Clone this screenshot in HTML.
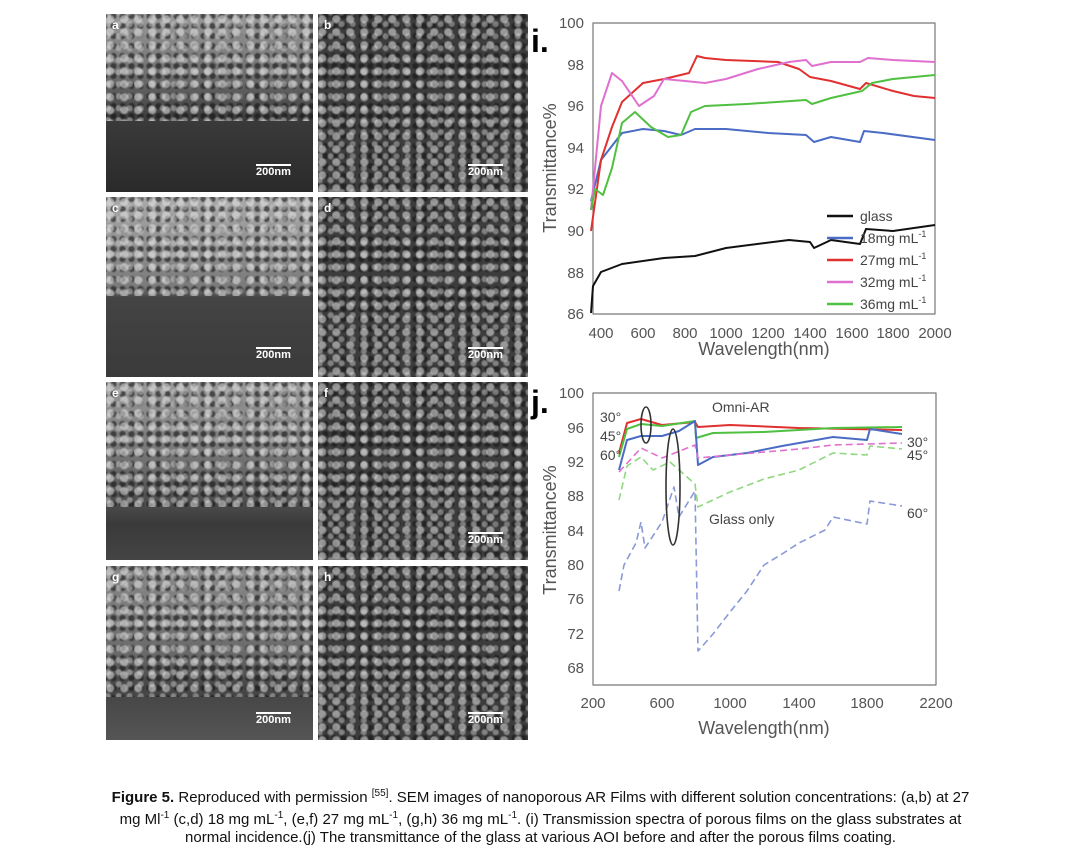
<!DOCTYPE html>
<html><head><meta charset="utf-8"><style>
body{margin:0;width:1081px;height:857px;background:#fff;position:relative;overflow:hidden;font-family:"Liberation Sans",Arial,sans-serif}
.p{position:absolute;overflow:hidden}
.L{background:linear-gradient(#9a9a9a 0%,#6e6e6e 35%,#3a3a3a 60%,#2a2a2a 100%)}
.R{background:#3c3c3c}
.tex{position:absolute;inset:0;background:
radial-gradient(circle at 30% 40%,rgba(230,230,230,.55) 0 3px,transparent 5px) 0 0/14px 13px,
radial-gradient(circle at 70% 60%,rgba(200,200,200,.5) 0 2px,transparent 4px) 5px 3px/11px 12px,
radial-gradient(circle at 50% 50%,rgba(20,20,20,.6) 0 2px,transparent 4px) 3px 7px/9px 10px}
.lb{position:absolute;left:6px;top:4px;color:#fff;font-size:12px;font-weight:bold}
.sb{position:absolute;color:#fff;font-size:11px;font-weight:bold;border-top:2px solid #fff;padding-top:0}
.cap{position:absolute;left:0;width:1081px;text-align:center;font-size:15px;color:#111;line-height:21px}
</style></head><body>
<div class="p L" style="left:106px;top:14px;width:207px;height:178px"><div class="tex" style="bottom:40%"></div><div class="lb">a</div><div class="sb" style="left:150px;top:150px">200nm</div></div>
<div class="p R" style="left:318px;top:14px;width:210px;height:178px"><div class="tex"></div><div class="lb">b</div><div class="sb" style="left:150px;top:150px">200nm</div></div>
<div class="p L" style="left:106px;top:197px;width:207px;height:180px;background:linear-gradient(#aaa 0%,#7a7a7a 50%,#444 56%,#3a3a3a 100%)"><div class="tex" style="bottom:45%"></div><div class="lb">c</div><div class="sb" style="left:150px;top:150px">200nm</div></div>
<div class="p R" style="left:318px;top:197px;width:210px;height:180px"><div class="tex"></div><div class="lb">d</div><div class="sb" style="left:150px;top:150px">200nm</div></div>
<div class="p L" style="left:106px;top:382px;width:207px;height:178px;background:linear-gradient(#999 0%,#777 40%,#3a3a3a 80%,#444 100%)"><div class="tex" style="bottom:30%"></div><div class="lb">e</div></div>
<div class="p R" style="left:318px;top:382px;width:210px;height:178px"><div class="tex"></div><div class="lb">f</div><div class="sb" style="left:150px;top:150px">200nm</div></div>
<div class="p L" style="left:106px;top:566px;width:207px;height:174px;background:linear-gradient(#8a8a8a 0%,#6a6a6a 50%,#444 70%,#555 100%)"><div class="tex" style="bottom:25%"></div><div class="lb">g</div><div class="sb" style="left:150px;top:146px">200nm</div></div>
<div class="p R" style="left:318px;top:566px;width:210px;height:174px"><div class="tex"></div><div class="lb">h</div><div class="sb" style="left:150px;top:146px">200nm</div></div>

<svg style="position:absolute;left:0;top:0" width="1081" height="760" font-family="Liberation Sans,Arial,sans-serif">
<g fill="none" stroke-width="2" stroke-linejoin="round">
<rect x="593" y="23" width="342" height="291" stroke="#777" stroke-width="1.2"/>
<text x="531" y="52" font-size="32" font-weight="bold" fill="#000" stroke="none">i.</text>
<g font-size="15" fill="#555" stroke="none" text-anchor="end">
<text x="584" y="28">100</text><text x="584" y="70">98</text><text x="584" y="111">96</text><text x="584" y="153">94</text><text x="584" y="194">92</text><text x="584" y="236">90</text><text x="584" y="278">88</text><text x="584" y="319">86</text></g>
<g font-size="15" fill="#555" stroke="none" text-anchor="middle">
<text x="601" y="338">400</text><text x="643" y="338">600</text><text x="685" y="338">800</text><text x="726" y="338">1000</text><text x="768" y="338">1200</text><text x="810" y="338">1400</text><text x="852" y="338">1600</text><text x="893" y="338">1800</text><text x="935" y="338">2000</text>
<text x="764" y="355" font-size="18">Wavelength(nm)</text>
<text transform="translate(556,168) rotate(-90)" font-size="18">Transmittance%</text></g>
<polyline stroke="#111" points="591,313 593,286 601,272 622,264 664,258 695,256 726,248 789,240 810,242 814,248 831,240 860,244 866,229 893,231 935,225"/>
<polyline stroke="#4a6cc4" points="591,201 601,160 622,133 643,129 664,131 681,135 695,129 726,129 768,133 806,135 814,142 831,137 860,142 864,131 883,133 935,140"/>
<polyline stroke="#e03030" points="591,231 601,160 612,127 622,102 643,83 664,79 689,73 697,56 705,58 726,60 778,62 799,69 810,77 831,81 860,89 866,83 893,91 914,96 935,98"/>
<polyline stroke="#e070d0" points="591,210 601,106 612,73 622,81 639,106 654,96 664,79 685,81 705,83 726,79 758,69 789,62 806,60 812,66 831,62 860,62 868,58 893,60 935,62"/>
<polyline stroke="#50c040" points="591,210 595,189 603,195 612,168 622,123 635,112 651,127 668,137 681,135 691,112 705,106 747,104 806,100 812,104 831,98 862,91 872,83 893,79 935,75"/>
<g stroke-width="2.5"><line x1="827" y1="216" x2="853" y2="216" stroke="#111"/><line x1="827" y1="238" x2="853" y2="238" stroke="#4a6cc4"/><line x1="827" y1="260" x2="853" y2="260" stroke="#e03030"/><line x1="827" y1="282" x2="853" y2="282" stroke="#e070d0"/><line x1="827" y1="304" x2="853" y2="304" stroke="#50c040"/></g>
<g font-size="14" fill="#444" stroke="none"><text x="860" y="221">glass</text><text x="860" y="243">18mg mL<tspan font-size="9" dy="-6">-1</tspan></text><text x="860" y="265">27mg mL<tspan font-size="9" dy="-6">-1</tspan></text><text x="860" y="287">32mg mL<tspan font-size="9" dy="-6">-1</tspan></text><text x="860" y="309">36mg mL<tspan font-size="9" dy="-6">-1</tspan></text></g>

<rect x="593" y="393" width="343" height="292" stroke="#777" stroke-width="1.2"/>
<text x="531" y="413" font-size="32" font-weight="bold" fill="#000" stroke="none">j.</text>
<g font-size="15" fill="#555" stroke="none" text-anchor="end">
<text x="584" y="398">100</text><text x="584" y="433">96</text><text x="584" y="467">92</text><text x="584" y="501">88</text><text x="584" y="536">84</text><text x="584" y="570">80</text><text x="584" y="604">76</text><text x="584" y="639">72</text><text x="584" y="673">68</text></g>
<g font-size="15" fill="#555" stroke="none" text-anchor="middle">
<text x="593" y="708">200</text><text x="662" y="708">600</text><text x="730" y="708">1000</text><text x="799" y="708">1400</text><text x="867" y="708">1800</text><text x="936" y="708">2200</text>
<text x="764" y="734" font-size="18">Wavelength(nm)</text>
<text transform="translate(556,530) rotate(-90)" font-size="18">Transmittance%</text></g>
<polyline stroke="#e03030" points="619,453 627,423 641,419 662,425 695,422 698,427 730,425 799,428 902,430"/>
<polyline stroke="#50c040" points="619,457 627,429 641,424 662,426 695,421 696,438 713,433 764,432 833,428 902,427"/>
<polyline stroke="#4a6cc4" points="619,470 627,440 641,436 662,436 679,431 695,421 698,465 713,457 747,453 782,446 833,437 867,440 870,429 902,434"/>
<g stroke-dasharray="7,4" stroke-width="1.6">
<polyline stroke="#e070d0" points="619,472 641,448 662,458 695,445 698,458 730,455 799,449 833,445 902,443"/>
<polyline stroke="#90d880" points="619,500 627,466 641,457 653,470 670,462 695,484 698,507 730,492 764,479 799,470 833,453 867,455 870,446 902,449"/>
<polyline stroke="#8a9ad8" points="619,591 624,565 636,543 641,522 645,548 662,522 674,487 679,517 695,491 698,651 713,634 730,612 747,591 764,565 782,554 799,543 825,530 833,517 867,524 870,501 902,506"/></g>
<ellipse cx="646" cy="425" rx="5" ry="18" stroke="#333" stroke-width="1.6"/>
<ellipse cx="673" cy="487" rx="7" ry="58" stroke="#333" stroke-width="1.6"/>
<g font-size="14" fill="#444" stroke="none"><text x="712" y="412">Omni-AR</text><text x="709" y="524">Glass only</text>
<text x="600" y="422">30°</text><text x="600" y="441">45°</text><text x="600" y="460">60°</text>
<text x="907" y="447">30°</text><text x="907" y="460">45°</text><text x="907" y="518">60°</text></g>
</g></svg>
<div class="cap" style="top:783px"><b>Figure 5.</b> Reproduced with permission <sup style="font-size:10px">[55]</sup>. SEM images of nanoporous AR Films with different solution concentrations: (a,b) at 27</div>
<div class="cap" style="top:805px">mg Ml<sup style="font-size:10px">-1</sup> (c,d) 18 mg mL<sup style="font-size:10px">-1</sup>, (e,f) 27 mg mL<sup style="font-size:10px">-1</sup>, (g,h) 36 mg mL<sup style="font-size:10px">-1</sup>. (i) Transmission spectra of porous films on the glass substrates at</div>
<div class="cap" style="top:827px">normal incidence.(j) The transmittance of the glass at various AOI before and after the porous films coating.</div>
</body></html>
